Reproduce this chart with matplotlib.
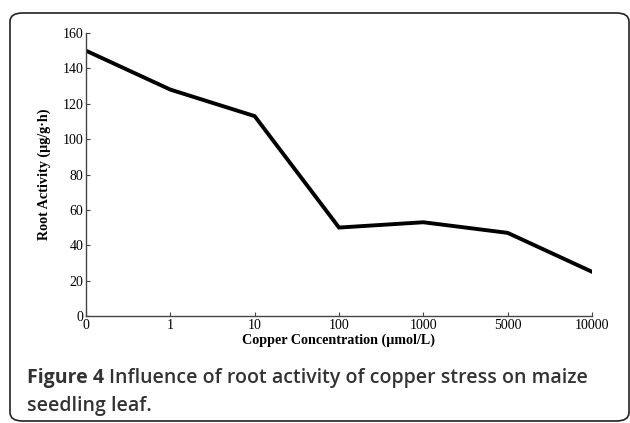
import matplotlib.pyplot as plt
from matplotlib.patches import FancyBboxPatch

# data
concentrations = ["0", "1", "10", "100", "1000", "5000", "10000"]
root_activity = [150, 128, 113, 50, 53, 47, 25]
y_ticks = [0, 20, 40, 60, 80, 100, 120, 140, 160]

W, H = 630, 423
fig = plt.figure(figsize=(W / 100, H / 100), dpi=100)

# rounded frame around figure + caption
frame = FancyBboxPatch((10 / W, 2 / H), 619 / W, 408 / H,
                       boxstyle="round,pad=0,rounding_size=0.02",
                       transform=fig.transFigure, fill=False,
                       edgecolor="#222222", linewidth=1.2)
fig.patches.append(frame)

ax = fig.add_axes([86 / W, 1 - 316 / H, (592 - 86) / W, (316 - 33) / H])
x = range(len(concentrations))
ax.plot(x, root_activity, color="black", linewidth=2.8, solid_joinstyle="miter")

ax.set_xlim(0, len(concentrations) - 1)
ax.set_ylim(0, 160)
ax.set_xticks(list(x))
ax.set_xticklabels(concentrations)
ax.set_yticks(y_ticks)

for s in ["top", "right"]:
    ax.spines[s].set_visible(False)
for s in ["left", "bottom"]:
    ax.spines[s].set_color("#444444")
    ax.spines[s].set_linewidth(1.0)

ax.tick_params(direction="in", length=3, width=0.8, color="#444444",
               labelsize=10, pad=2)
for lbl in ax.get_xticklabels() + ax.get_yticklabels():
    lbl.set_fontfamily("Liberation Serif")

ax.set_xlabel("Copper Concentration (μmol/L)", fontfamily="Liberation Serif",
              fontweight="bold", fontsize=10.2, labelpad=1)
ax.set_ylabel("Root Activity (μg/g·h)", fontfamily="Liberation Serif",
              fontweight="bold", fontsize=10.2, labelpad=8)

cap_size = 14
t1 = fig.text(27 / W, 1 - 378 / H, "Figure 4 ", fontfamily="Open Sans",
              fontweight="bold", fontsize=cap_size, color="#333333", va="center")
r = fig.canvas.get_renderer()
bb = t1.get_window_extent(renderer=r)
fig.text(bb.x1 / W, 1 - 378 / H, "Influence of root activity of copper stress on maize",
         fontfamily="Open Sans", fontweight="semibold", fontsize=cap_size,
         color="#333333", va="center")
fig.text(27 / W, 1 - 406 / H, "seedling leaf.", fontfamily="Open Sans",
         fontweight="semibold", fontsize=cap_size, color="#333333", va="center")

fig.savefig("out.png", dpi=100)
